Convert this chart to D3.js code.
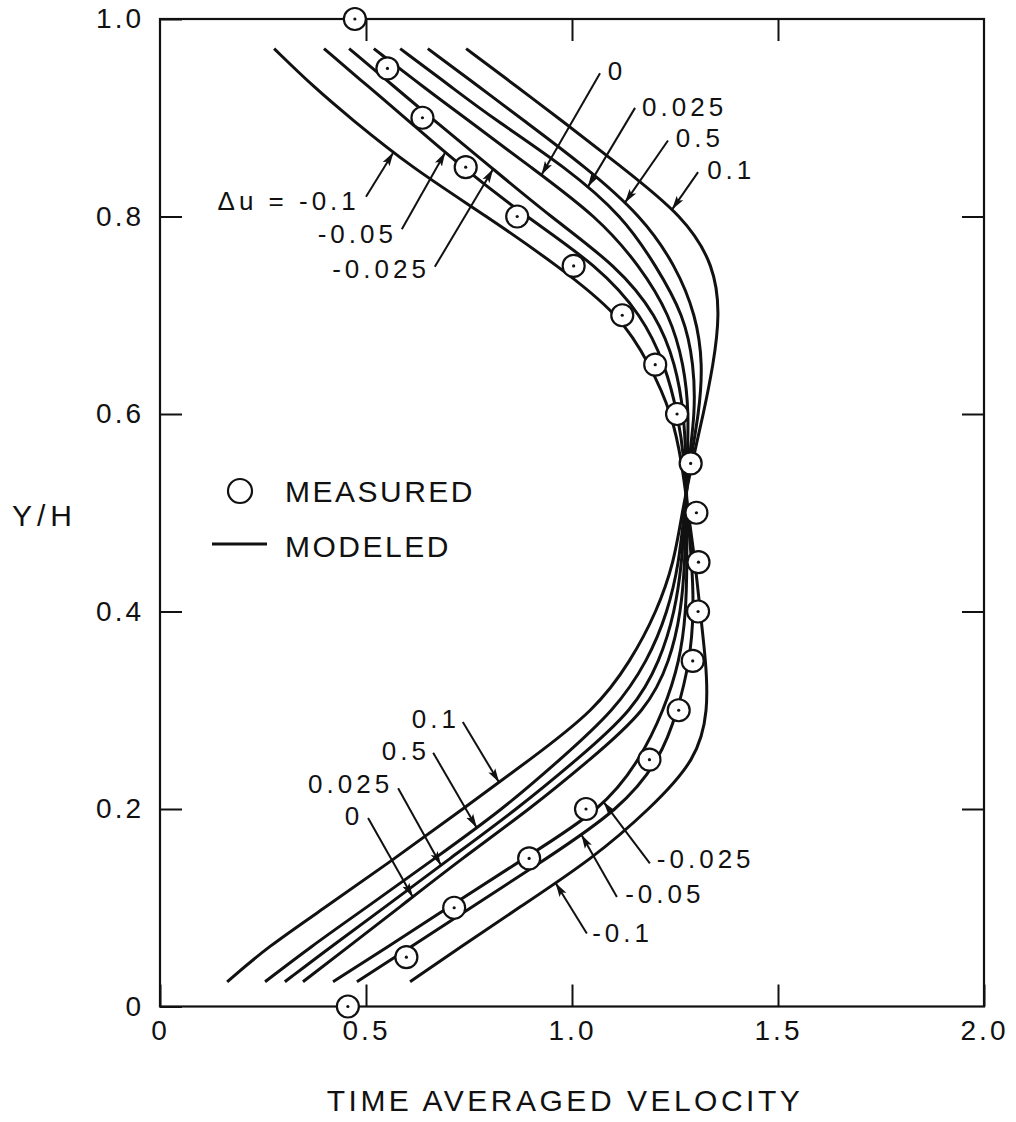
<!DOCTYPE html>
<html>
<head>
<meta charset="utf-8">
<script src="https://cdn.jsdelivr.net/npm/d3@7"></script>
<style>
  html, body { margin: 0; padding: 0; background: #fff; }
  svg { display: block; font-family: "Liberation Sans", Arial, Helvetica, sans-serif; }
</style>
</head>
<body>
<svg id="chart" width="1016" height="1122"></svg>
<script>
// ---- data -------------------------------------------------------------
// Y/H stations shared by every modeled profile (bottom to top)
const yLevels = [0.025, 0.06, 0.10, 0.15, 0.20, 0.25, 0.30, 0.35, 0.40, 0.45, 0.50,
                 0.55, 0.60, 0.65, 0.70, 0.75, 0.80, 0.85, 0.90, 0.93, 0.97];

// modeled time-averaged velocity for each Δu
const curveDuMinus010  = [0.607, 0.728, 0.871, 1.051, 1.189, 1.303, 1.331, 1.325, 1.311, 1.299, 1.282,
                          1.267, 1.243, 1.189, 1.117, 0.966, 0.794, 0.609, 0.461, 0.376, 0.277];
const curveDuMinus005  = [0.478, 0.607, 0.755, 0.939, 1.117, 1.214, 1.257, 1.286, 1.296, 1.291, 1.280,
                          1.274, 1.257, 1.226, 1.170, 1.063, 0.888, 0.733, 0.595, 0.510, 0.398];
const curveDuMinus0025 = [0.420, 0.551, 0.699, 0.883, 1.075, 1.165, 1.223, 1.262, 1.277, 1.279, 1.279,
                          1.277, 1.272, 1.252, 1.206, 1.109, 0.947, 0.803, 0.658, 0.573, 0.459];
const curveDuZero      = [0.347, 0.456, 0.580, 0.733, 0.898, 1.044, 1.182, 1.238, 1.265, 1.274, 1.277,
                          1.279, 1.284, 1.272, 1.238, 1.165, 1.061, 0.900, 0.740, 0.643, 0.519];
const curveDuPlus0025  = [0.303, 0.413, 0.544, 0.704, 0.867, 1.012, 1.149, 1.214, 1.250, 1.267, 1.274,
                          1.282, 1.299, 1.296, 1.272, 1.204, 1.124, 0.985, 0.806, 0.711, 0.583];
const curveDuPlus005   = [0.255, 0.364, 0.500, 0.667, 0.833, 0.971, 1.104, 1.184, 1.233, 1.260, 1.272,
                          1.286, 1.308, 1.318, 1.301, 1.252, 1.170, 1.034, 0.874, 0.779, 0.650];
const curveDuPlus010   = [0.163, 0.260, 0.400, 0.570, 0.735, 0.898, 1.056, 1.143, 1.206, 1.248, 1.267,
                          1.291, 1.319, 1.343, 1.359, 1.346, 1.272, 1.121, 0.966, 0.871, 0.743];

// measured profile
const measuredY        = [0.00, 0.05, 0.10, 0.15, 0.20, 0.25, 0.30, 0.35, 0.40, 0.45, 0.50,
                          0.55, 0.60, 0.65, 0.70, 0.75, 0.80, 0.85, 0.90, 0.95, 1.00];
const measuredVelocity = [0.456, 0.598, 0.714, 0.896, 1.034, 1.188, 1.259, 1.293, 1.306, 1.307, 1.302,
                          1.288, 1.255, 1.202, 1.122, 1.004, 0.867, 0.742, 0.637, 0.552, 0.473];

// axes
const xTicks      = [0, 0.5, 1.0, 1.5, 2.0];
const xTickLabels = ["0", "0.5", "1.0", "1.5", "2.0"];
const yTicks      = [0, 0.2, 0.4, 0.6, 0.8, 1.0];
const yTickLabels = ["0", "0.2", "0.4", "0.6", "0.8", "1.0"];

const profiles = [
  { key: "m010",  values: curveDuMinus010 },
  { key: "m005",  values: curveDuMinus005 },
  { key: "m0025", values: curveDuMinus0025 },
  { key: "zero",  values: curveDuZero },
  { key: "p0025", values: curveDuPlus0025 },
  { key: "p005",  values: curveDuPlus005 },
  { key: "p010",  values: curveDuPlus010 }
];

// call-outs: label text, profile it points at, Y/H of the arrow tip,
// arrow tail and label anchor in data units
const callouts = [
  { text: "0",         curve: "zero",  tipY: 0.842, tail: [1.068, 0.945], at: [1.087, 0.938], anchor: "start" },
  { text: "0.025",     curve: "p0025", tipY: 0.830, tail: [1.153, 0.910], at: [1.170, 0.902], anchor: "start" },
  { text: "0.5",       curve: "p005",  tipY: 0.814, tail: [1.233, 0.877], at: [1.252, 0.870], anchor: "start" },
  { text: "0.1",       curve: "p010",  tipY: 0.807, tail: [1.306, 0.845], at: [1.328, 0.838], anchor: "start" },
  { text: "\u0394u = -0.1", curve: "m010", tipY: 0.865, tail: [0.500, 0.820], at: [0.485, 0.807], anchor: "end" },
  { text: "-0.05",     curve: "m005",  tipY: 0.865, tail: [0.587, 0.787], at: [0.575, 0.773], anchor: "end" },
  { text: "-0.025",    curve: "m0025", tipY: 0.848, tail: [0.667, 0.749], at: [0.655, 0.738], anchor: "end" },
  { text: "0.1",       curve: "p010",  tipY: 0.227, tail: [0.735, 0.288], at: [0.728, 0.282], anchor: "end" },
  { text: "0.5",       curve: "p005",  tipY: 0.181, tail: [0.663, 0.257], at: [0.655, 0.250], anchor: "end" },
  { text: "0.025",     curve: "p0025", tipY: 0.143, tail: [0.578, 0.221], at: [0.566, 0.216], anchor: "end" },
  { text: "0",         curve: "zero",  tipY: 0.111, tail: [0.505, 0.191], at: [0.493, 0.184], anchor: "end" },
  { text: "-0.025",    curve: "m0025", tipY: 0.207, tail: [1.189, 0.145], at: [1.206, 0.140], anchor: "start" },
  { text: "-0.05",     curve: "m005",  tipY: 0.174, tail: [1.109, 0.111], at: [1.129, 0.105], anchor: "start" },
  { text: "-0.1",      curve: "m010",  tipY: 0.125, tail: [1.036, 0.074], at: [1.049, 0.065], anchor: "start" }
];

// ---- layout -----------------------------------------------------------
const plot = { left: 160, right: 984, top: 19, bottom: 1006.5 };
const x = d3.scaleLinear().domain([0, 2]).range([plot.left, plot.right]);
const y = d3.scaleLinear().domain([0, 1]).range([plot.bottom, plot.top]);

const svg = d3.select("#chart");
const ink = "#111";

svg.append("defs").append("marker")
  .attr("id", "head")
  .attr("markerUnits", "userSpaceOnUse")
  .attr("viewBox", "0 -5 14 10")
  .attr("refX", 14).attr("refY", 0)
  .attr("markerWidth", 14).attr("markerHeight", 10)
  .attr("orient", "auto")
  .append("path")
  .attr("d", "M0,-4 L14,0 L0,4 L3,0 Z")
  .attr("fill", ink);

// frame
svg.append("rect")
  .attr("x", plot.left).attr("y", plot.top)
  .attr("width", plot.right - plot.left).attr("height", plot.bottom - plot.top)
  .attr("fill", "none").attr("stroke", ink).attr("stroke-width", 2.2);

// axes with inward ticks on all four sides
const tickLen = 22;
const styleAxis = g => {
  g.select(".domain").remove();
  g.selectAll(".tick line").attr("stroke", ink).attr("stroke-width", 2);
  g.selectAll(".tick text")
    .attr("fill", ink)
    .style("font-size", "28px")
    .style("letter-spacing", "3px");
};

svg.append("g")
  .attr("transform", `translate(0,${plot.bottom})`)
  .call(d3.axisBottom(x).tickValues(xTicks)
    .tickFormat((d, i) => xTickLabels[i])
    .tickSizeInner(-tickLen).tickSizeOuter(0).tickPadding(14))
  .call(styleAxis);

svg.append("g")
  .attr("transform", `translate(0,${plot.top})`)
  .call(d3.axisTop(x).tickValues(xTicks.slice(1, -1))
    .tickFormat("").tickSizeInner(-tickLen).tickSizeOuter(0))
  .call(styleAxis);

svg.append("g")
  .attr("transform", `translate(${plot.left},0)`)
  .call(d3.axisLeft(y).tickValues(yTicks)
    .tickFormat((d, i) => yTickLabels[i])
    .tickSizeInner(-tickLen).tickSizeOuter(0).tickPadding(16))
  .call(styleAxis);

svg.append("g")
  .attr("transform", `translate(${plot.right},0)`)
  .call(d3.axisRight(y).tickValues(yTicks.slice(1, -1))
    .tickFormat("").tickSizeInner(-tickLen).tickSizeOuter(0))
  .call(styleAxis);

// axis titles
svg.append("text")
  .attr("x", 565).attr("y", 1111)
  .attr("text-anchor", "middle")
  .attr("fill", ink)
  .style("font-size", "30px").style("letter-spacing", "3.5px")
  .text("TIME AVERAGED VELOCITY");

svg.append("text")
  .attr("x", 12).attr("y", 526)
  .attr("fill", ink)
  .style("font-size", "30px").style("letter-spacing", "5px")
  .text("Y/H");

// modeled profiles, drawn as smooth B-splines through the stations
const line = d3.line()
  .x(d => x(d[0]))
  .y(d => y(d[1]))
  .curve(d3.curveBasis);

const pathByKey = {};
profiles.forEach(p => {
  const pts = p.values.map((v, i) => [v, yLevels[i]]);
  const node = svg.append("path")
    .datum(pts)
    .attr("d", line)
    .attr("fill", "none")
    .attr("stroke", ink)
    .attr("stroke-width", 3)
    .attr("stroke-linejoin", "round")
    .node();
  pathByKey[p.key] = node;
});

// measured points
const meas = svg.append("g");
measuredY.forEach((yy, i) => {
  const cx = x(measuredVelocity[i]), cy = y(yy);
  meas.append("circle").attr("cx", cx).attr("cy", cy).attr("r", 11)
    .attr("fill", "#fff").attr("stroke", ink).attr("stroke-width", 2.2);
  meas.append("circle").attr("cx", cx).attr("cy", cy).attr("r", 1.6).attr("fill", ink);
});

// find where a drawn profile reaches a given screen height
function pointAtScreenY(node, py) {
  let lo = 0, hi = node.getTotalLength();
  for (let k = 0; k < 40; k++) {
    const mid = (lo + hi) / 2;
    if (node.getPointAtLength(mid).y > py) lo = mid; else hi = mid;
  }
  return node.getPointAtLength((lo + hi) / 2);
}

// call-outs
const notes = svg.append("g");
callouts.forEach(c => {
  const tip = pointAtScreenY(pathByKey[c.curve], y(c.tipY));
  notes.append("line")
    .attr("x1", x(c.tail[0])).attr("y1", y(c.tail[1]))
    .attr("x2", tip.x).attr("y2", tip.y)
    .attr("stroke", ink).attr("stroke-width", 2)
    .attr("marker-end", "url(#head)");
  notes.append("text")
    .attr("x", x(c.at[0])).attr("y", y(c.at[1]))
    .attr("text-anchor", c.anchor)
    .attr("fill", ink)
    .style("font-size", "26px").style("letter-spacing", "4px")
    .text(c.text);
});

// legend
const legend = svg.append("g");
legend.append("circle").attr("cx", 240).attr("cy", 491).attr("r", 12)
  .attr("fill", "#fff").attr("stroke", ink).attr("stroke-width", 2.2);
legend.append("text").attr("x", 285).attr("y", 502).attr("fill", ink)
  .style("font-size", "30px").style("letter-spacing", "2.5px").text("MEASURED");
legend.append("line").attr("x1", 212).attr("x2", 267).attr("y1", 544).attr("y2", 544)
  .attr("stroke", ink).attr("stroke-width", 3);
legend.append("text").attr("x", 285).attr("y", 557).attr("fill", ink)
  .style("font-size", "30px").style("letter-spacing", "2.5px").text("MODELED");
</script>
</body>
</html>
